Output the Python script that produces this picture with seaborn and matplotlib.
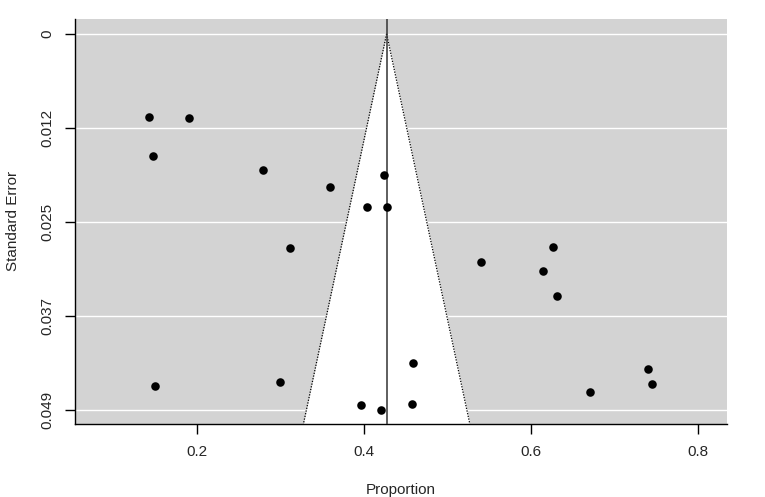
import numpy as np
import pandas as pd
import seaborn as sns
import matplotlib.pyplot as plt

# study estimates
proportion = [0.143, 0.190, 0.147, 0.279, 0.359, 0.424, 0.404, 0.427, 0.311,
              0.540, 0.626, 0.614, 0.631, 0.458, 0.150, 0.300, 0.396, 0.420,
              0.457, 0.670, 0.740, 0.744]
std_error = [0.0108, 0.0109, 0.0159, 0.0177, 0.0200, 0.0184, 0.0225, 0.0225,
             0.0279, 0.0297, 0.0277, 0.0309, 0.0341, 0.0429, 0.0458, 0.0454,
             0.0483, 0.0490, 0.0482, 0.0467, 0.0436, 0.0456]
pooled = 0.427

x_ticks = [0.2, 0.4, 0.6, 0.8]
y_ticks = [0, 0.01225, 0.0245, 0.03675, 0.049]
y_labels = ["0", "0.012", "0.025", "0.037", "0.049"]

df = pd.DataFrame({"Proportion": proportion, "SE": std_error})

sns.set_style("ticks")
plt.rcParams["font.family"] = ["Liberation Sans", "DejaVu Sans"]

fig = plt.figure(figsize=(7.65, 4.97), dpi=100)
ax = fig.add_axes([0.098, 0.147, 0.852, 0.815])

xlim = (0.0541, 0.834)
ylim = (0.0508, -0.00195)
ax.set_xlim(*xlim)
ax.set_ylim(*ylim)
ax.set_facecolor("#d3d3d3")

# horizontal white reference lines
for t in y_ticks:
    ax.axhline(t, color="white", lw=1.0, zorder=1)

# pseudo confidence region
se_line = np.array([0, ylim[0]])
ax.fill_betweenx(se_line, pooled - 1.96 * se_line, pooled + 1.96 * se_line,
                 color="white", zorder=2, lw=0)
ax.plot(pooled - 1.96 * se_line, se_line, color="black", ls=(0, (1, 1.2)), lw=0.9, zorder=3)
ax.plot(pooled + 1.96 * se_line, se_line, color="black", ls=(0, (1, 1.2)), lw=0.9, zorder=3)
ax.axvline(pooled, color="#333333", lw=1.1, zorder=3)

sns.scatterplot(data=df, x="Proportion", y="SE", ax=ax, color="black",
                s=38, linewidth=0, zorder=4)

ax.set_xticks(x_ticks)
ax.set_xticklabels([f"{v:g}" for v in x_ticks])
ax.set_yticks(y_ticks)
ax.set_yticklabels(y_labels, rotation=90, va="center")
ax.tick_params(axis="both", length=7, width=1, labelsize=11, color="black")
ax.tick_params(axis="x", pad=8.5)
ax.tick_params(axis="y", pad=7.5)

for side in ["top", "right"]:
    ax.spines[side].set_visible(False)
for side in ["left", "bottom"]:
    ax.spines[side].set_linewidth(1)
    ax.spines[side].set_color("black")

ax.set_xlabel("Proportion", fontsize=11, labelpad=17)
ax.set_ylabel("Standard Error", fontsize=11, labelpad=15)

fig.savefig("out.png", dpi=100)
